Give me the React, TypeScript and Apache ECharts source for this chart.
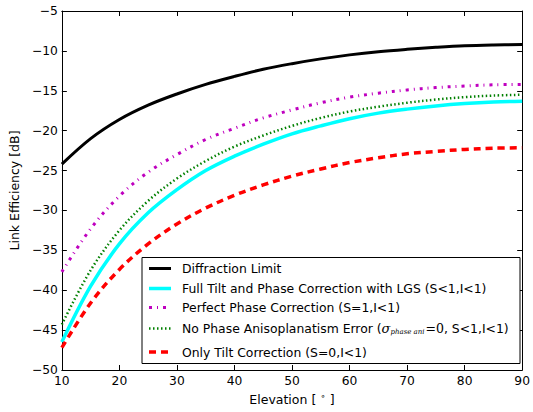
import React, { useEffect, useRef } from "react";
import * as echarts from "echarts";

const elevation = [10, 15, 20, 25, 30, 35, 40, 45, 50, 55, 60, 65, 70, 75, 80, 85, 90];
const diffractionLimit = [-24.2, -21.0, -18.6, -16.8, -15.4, -14.2, -13.2, -12.3, -11.6, -11.0, -10.5, -10.1, -9.8, -9.55, -9.35, -9.25, -9.2];
const fullTiltPhaseLGS = [-46.5, -39.5, -34.2, -30.3, -27.4, -25.0, -23.2, -21.7, -20.4, -19.4, -18.5, -17.8, -17.3, -16.9, -16.6, -16.4, -16.3];
const perfectPhase = [-37.7, -32.3, -28.2, -25.2, -23.0, -21.1, -19.7, -18.4, -17.4, -16.5, -15.8, -15.3, -14.9, -14.6, -14.4, -14.25, -14.2];
const noAnisoplanatism = [-44.3, -37.5, -32.5, -28.8, -26.0, -23.8, -22.0, -20.6, -19.4, -18.4, -17.6, -17.0, -16.5, -16.1, -15.8, -15.6, -15.5];
const onlyTilt = [-47.2, -41.6, -37.4, -34.2, -31.7, -29.7, -28.1, -26.8, -25.7, -24.8, -24.0, -23.4, -22.9, -22.6, -22.35, -22.2, -22.15];

const xTicks = { min: 10, max: 90, interval: 10 };
const yTicks = { min: -50, max: -5, interval: 5 };

const FONT = "DejaVu Sans";

const seriesDefs = [
  { name: "Diffraction Limit", data: diffractionLimit, color: "#000000", width: 3, dash: null as number[] | null },
  { name: "Full Tilt and Phase Correction with LGS (S<1,I<1)", data: fullTiltPhaseLGS, color: "#00FFFF", width: 3.5, dash: null },
  { name: "Perfect Phase Correction (S=1,I<1)", data: perfectPhase, color: "#BF00BF", width: 3, dash: [3, 5, 1, 5] },
  { name: "No Phase Anisoplanatism Error", data: noAnisoplanatism, color: "#008000", width: 2.5, dash: [1.5, 2.5] },
  { name: "Only Tilt Correction (S=0,I<1)", data: onlyTilt, color: "#FF0000", width: 3.5, dash: [7, 5] },
];

const fmtNum = (v: number) => (v < 0 ? "\u2212" + Math.abs(v) : String(v));

export default function App() {
  const ref = useRef<HTMLDivElement>(null);
  useEffect(() => {
    if (!ref.current) return;
    const chart = echarts.init(ref.current, undefined, { renderer: "svg" });

    const axisLine = { show: true, onZero: false, lineStyle: { color: "#000", width: 1 } };
    const axisTick = { show: true, inside: true, length: 5, lineStyle: { color: "#000", width: 1 } };
    const axisLabel = { color: "#000", fontSize: 12.3, fontFamily: FONT, showMinLabel: true, showMaxLabel: true, formatter: fmtNum };

    const LF = 12.4;
    const legendRows = [268.5, 288.5, 307.5, 328.5, 352];
    const graphic: any[] = [
      {
        type: "rect",
        z: 100,
        shape: { x: 142, y: 257.5, width: 378, height: 106 },
        style: { fill: "#fff", stroke: "#000", lineWidth: 1 },
      },
    ];
    seriesDefs.forEach((s, i) => {
      const y = legendRows[i];
      graphic.push({
        type: "line",
        z: 101,
        shape: { x1: 149, y1: y, x2: 171, y2: y },
        style: { stroke: s.color, lineWidth: s.width, lineDash: s.dash || undefined, lineCap: "butt" },
      });
      if (i === 3) {
        graphic.push({
          type: "text",
          z: 101,
          x: 182,
          y: y,
          style: {
            text: "{n|No Phase Anisoplanatism Error (}{s|\u03C3}{b|phase ani}{m|=0}{n|, S<1,I<1)}",
            verticalAlign: "middle",
            fill: "#000",
            rich: {
              n: { fontFamily: FONT, fontSize: LF, fill: "#000" },
              s: { fontFamily: "DejaVu Serif", fontStyle: "italic", fontSize: 13, fill: "#000" },
              b: { fontFamily: "DejaVu Serif", fontStyle: "italic", fontSize: 7, fill: "#000", padding: [7, 1, 0, 0] },
              m: { fontFamily: "DejaVu Serif", fontSize: 12.5, fill: "#000" },
            },
          },
        });
      } else {
        graphic.push({
          type: "text",
          z: 101,
          x: 182,
          y: y,
          style: { text: s.name, fontFamily: FONT, fontSize: LF, fill: "#000", verticalAlign: "middle" },
        });
      }
    });

    chart.setOption({
      animation: false,
      backgroundColor: "#fff",
      grid: { left: 60, right: 9, top: 11, bottom: 42, containLabel: false },
      xAxis: [
        {
          type: "value",
          position: "bottom",
          ...xTicks,
          axisLine,
          axisTick,
          axisLabel: { ...axisLabel, margin: 5 },
          splitLine: { show: false },
          name: "{a|Elevation [ }{s|\u2218}{a| ]}",
          nameLocation: "middle",
          nameGap: 21,
          nameTextStyle: {
            color: "#000",
            fontSize: 12.5,
            fontFamily: FONT,
            rich: {
              a: { fontSize: 12.5, fontFamily: FONT, color: "#000" },
              s: { fontSize: 9, fontFamily: "DejaVu Sans", color: "#000", padding: [0, 0, 6, 0] },
            },
          },
        },
        {
          type: "value",
          position: "top",
          ...xTicks,
          axisLine,
          axisTick,
          axisLabel: { show: false },
          splitLine: { show: false },
        },
      ],
      yAxis: [
        {
          type: "value",
          position: "left",
          ...yTicks,
          axisLine,
          axisTick,
          axisLabel: { ...axisLabel, margin: 4 },
          splitLine: { show: false },
          name: "Link Efficiency [dB]",
          nameLocation: "middle",
          nameGap: 35,
          nameTextStyle: { color: "#000", fontSize: 12.5, fontFamily: FONT },
        },
        {
          type: "value",
          position: "right",
          ...yTicks,
          axisLine,
          axisTick,
          axisLabel: { show: false },
          splitLine: { show: false },
        },
      ],
      series: seriesDefs.map((s) => ({
        type: "line",
        name: s.name,
        xAxisIndex: 0,
        yAxisIndex: 0,
        data: elevation.map((e, i) => [e, s.data[i]]),
        showSymbol: false,
        smooth: 0.35,
        lineStyle: { color: s.color, width: s.width, type: s.dash || "solid", cap: "butt" },
        itemStyle: { color: s.color },
      })),
      graphic,
    });
    return () => chart.dispose();
  }, []);
  return <div ref={ref} style={{ position: "fixed", left: 0, top: 0, width: 533, height: 412, background: "#fff" }} />;
}
